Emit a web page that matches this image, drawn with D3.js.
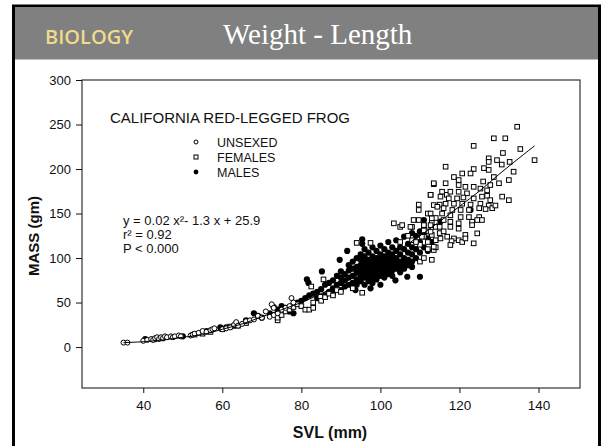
<!DOCTYPE html>
<html>
<head>
<meta charset="utf-8">
<script src="https://cdn.jsdelivr.net/npm/d3@7"></script>
<style>
html,body{margin:0;padding:0;background:#fff;}
svg{display:block;}
</style>
</head>
<body>
<svg id="chart" width="602" height="446"></svg>
<script>
// ---- data ----
const xTicks = [40, 60, 80, 100, 120, 140];
const yTicks = [0, 50, 100, 150, 200, 250, 300];
const legendLabels = ["UNSEXED", "FEMALES", "MALES"];
const equationLines = ["y = 0.02 x\u00B2- 1.3 x + 25.9", "r\u00B2 = 0.92", "P < 0.000"];

const fitCurve = [[35,5],[40,6],[45,8],[50,11],[55,14],[60,20],[65,26],[70,34],[75,42],[80,50],[85,60],[90,71],[95,83],[100,96],[105,110],[110,125],[115,141],[120,158],[125,175],[130,194],[135,212],[139,226]];

const unsexed = [[35,5],[36,5],[40,7],[41,8],[42,9],[42.5,8],[43,10],[43.5,11],[44,9],[44.5,11],[45,10],[45.5,12],[46,11],[47,12],[47.5,11],[48,12],[49,13],[49.5,12],[52,13],[52.5,14],[53,15],[54,16],[55,18],[56,17],[57,19],[57.5,20],[58,21],[60,20],[61,21],[62,22],[63,25],[63.5,28],[64,24],[65,26],[66,29],[67,30],[68,31],[69,35],[70,33],[71,40],[72,34],[72.5,48],[73,36],[73,44],[74,38],[75,42],[76,44],[77,46],[77.5,55],[78,50]];

const females = [
[53,14],[55,15],[57,17],[60,20],[62,23],[64,24],[66,27],
[74,30],[74,33],[75,36],[76,40],[77,42],[78,45],[79,48],[80,46],[81,42],[82,42],[83,44],[82.5,68],[83,50],[84.8,56.5],[85,52],[85.6,76],[86,56],[87,60],[88,58],[89,64],[90,62],[93,66],[94,117],[95.4,61],[97.5,117],
[103.4,139],[105,135],[105,118],[108,135],[108,120],[109.7,160],[110,96],[110,115],[111,124],[111,137],[112,110],[112,130],[112.7,171],[113.5,109],[113.5,183],[113,98],[114,120],[115,128],[116.8,171],[115,160],[114,135],[112,150],
[107,125],[109,118],[111,100],[112,118],[113,126],[114,112],[113,140],[114,145],[115,135],[116,130],
[134.6,247.5],[128.7,234.5],[131.6,234.5],[123.6,226],[131,218],[135.4,222.5],[139,210],[127.4,212],[127.4,208],[129.5,210],[130.7,205],[132.7,208],[133.7,197],[126.2,201],[127.4,199],[123.6,200],[120.7,195],[116.5,202.6],[122.8,195],[118.6,191],[119.8,187.6],[128.7,191],[130,184],[132.5,187.6],[126,186],[127.8,182],[113.5,184],[116.5,184],[119.8,182],[121.5,180],[123.6,180],[125.3,178],[127,176],[115.6,174.5],[117.7,174.5],[119.8,174.5],[121.9,172.7],[112.7,171],[115.2,169],[117.3,167],[119.4,167],[121,168],[123.6,167],[125.7,169],[127,170],[127.8,165],[130.8,169],[132.5,165],[116.5,161],[118.6,161],[120.7,161],[122.8,160],[125.3,161],[127.4,159],[113.5,159.5],[114.4,157.6],[116,156],[118.2,154],[120.3,154],[122.4,154],[125,156],[126.6,155],[128.3,156],[129.1,159],[112.7,150],[115.6,150],[117.7,148],[120.3,146],[122.4,146],[125,146],[113,144.6],[116,142.7],[117.7,140.8],[119.8,139],[123.2,140.8],[125.7,142.7],[117.7,135],[119.8,133],[123.2,137],[124.5,142.7],[116.9,124],[118.6,122],[119.8,120],[121.5,126],[124.5,127.7],[118,119],[113.5,112.7],[117.7,114.6],[123.6,116.5],[109.7,142.7],[107.6,135],[105.5,137],[111,137],[112.7,137],[111,131],[112.7,129.6],[110.5,124],[109.7,154],[115.2,122],[108.4,142.7],[120.7,118],[121.5,122]
];

const males = [[40.5,9],[43,9],[45,10],[50,12],[56,18],[59.5,22],[61,22],[63,24],[66,30],[68,38],[69,35],[70,33],[72,38],[73,45],[74,42],[75,46],[76,44],[77,40],[78,48],[78,38],[79,50],[80,52],[81,55],[81.4,76],[81.8,72],[82,58],[83,60],[84,55],[84,62],[85,65],[85.2,85],[86,58],[86,70],[87,62],[87,72],[88,66],[88,75],[88,60],[89,70],[89,80],[89.7,98],[90,64],[90,72],[90,78],[90,85],[91,68],[91,75],[91,82],[91.6,108],[92,70],[92,78],[92,86],[92,92],[93,72],[93,80],[93,88],[93,96],[93.7,64],[94,70],[94,76],[94,84],[94,90],[94,100],[95,74],[95,80],[95,86],[95,92],[95,98],[95,104],[95.4,116],[95.4,121],[96,70],[96,78],[96,84],[96,90],[96,96],[96,102],[96,110],[97,74],[97,80],[97,86],[97,92],[97,98],[97,106],[97.5,66],[98,72],[98,78],[98,84],[98,90],[98,96],[98,102],[98,112],[99,76],[99,82],[99,88],[99,94],[99,100],[99,108],[100,70],[100,80],[100,86],[100,92],[100,98],[100,104],[100,114],[101,78],[101,84],[101,90],[101,96],[101,102],[101,110],[102,82],[102,88],[102,94],[102,100],[102,106],[102,118],[103,80],[103,86],[103,92],[103,98],[103,104],[103,112],[103.8,75],[104,88],[104,94],[104,100],[104,108],[104,120],[105,84],[105,90],[105,96],[105,104],[105,112],[106,88],[106,94],[106,100],[106,110],[106,124],[106.8,79],[107,92],[107,98],[107,106],[107,116],[108,90],[108,96],[108,104],[108,112],[108,128],[109,100],[109,110],[109,125],[110,79],[110,106],[110,118],[110,130],[111,112],[111,128],[111,142.7],[112,108],[112,122],[113,118],[115.2,141],[122.8,154]];

// ---- layout ----
const svg = d3.select("#chart");

// slide frame
svg.append("rect").attr("x", 13.5).attr("y", 6).attr("width", 586).attr("height", 460)
  .attr("fill", "#fff").attr("stroke", "#000").attr("stroke-width", 3);
svg.append("rect").attr("x", 15).attr("y", 7.5).attr("width", 583).attr("height", 52)
  .attr("fill", "#808080");
svg.append("text").attr("x", 45).attr("y", 44).text("BIOLOGY")
  .attr("font-family", "'Open Sans', sans-serif").attr("font-size", 20).attr("font-weight", 600)
  .attr("fill", "#f0db8e");
svg.append("text").attr("x", 223).attr("y", 44).text("Weight - Length")
  .attr("font-family", "'Liberation Serif', 'DejaVu Serif', serif").attr("font-size", 29)
  .attr("fill", "#fff");

const x = d3.scaleLinear().domain([24.5, 150.5]).range([82, 580]);
const y = d3.scaleLinear().domain([-46, 300]).range([388, 80]);

const ink = "#111";
const fontSans = "'Liberation Sans', Arial, sans-serif";

// plot frame
svg.append("rect").attr("x", 82).attr("y", 80).attr("width", 498).attr("height", 308)
  .attr("fill", "none").attr("stroke", "#333").attr("stroke-width", 1.2);

// axes
const yAxis = d3.axisLeft(y).tickValues(yTicks).tickSize(6).tickPadding(5);
const gy = svg.append("g").attr("transform", "translate(82,0)").call(yAxis);
gy.select(".domain").remove();
gy.selectAll("line").attr("stroke", ink);
gy.selectAll("text").attr("font-family", fontSans).attr("font-size", 13).attr("fill", ink);

const xAxis = d3.axisBottom(x).tickValues(xTicks).tickSize(5).tickPadding(7);
const gx = svg.append("g").attr("transform", "translate(0,388)").call(xAxis);
gx.select(".domain").remove();
gx.selectAll("line").attr("stroke", ink);
gx.selectAll("text").attr("font-family", fontSans).attr("font-size", 13.5).attr("fill", ink);

// axis titles
svg.append("text").attr("transform", "translate(39,236) rotate(-90)").attr("text-anchor", "middle")
  .text("MASS (gm)").attr("font-family", fontSans).attr("font-size", 15).attr("font-weight", "bold").attr("fill", ink);
svg.append("text").attr("x", 330).attr("y", 438).attr("text-anchor", "middle")
  .text("SVL (mm)").attr("font-family", fontSans).attr("font-size", 16).attr("font-weight", "bold").attr("fill", ink);

// points
const gPts = svg.append("g");
gPts.selectAll("circle.m").data(males).join("circle").attr("class", "m")
  .attr("cx", d => x(d[0])).attr("cy", d => y(d[1])).attr("r", 3.1).attr("fill", "#000");
gPts.selectAll("rect.f").data(females).join("rect").attr("class", "f")
  .attr("x", d => x(d[0]) - 2.3).attr("y", d => y(d[1]) - 2.3).attr("width", 4.6).attr("height", 4.6)
  .attr("fill", "#fff").attr("stroke", "#000").attr("stroke-width", 1);
gPts.selectAll("circle.u").data(unsexed).join("circle").attr("class", "u")
  .attr("cx", d => x(d[0])).attr("cy", d => y(d[1])).attr("r", 2.5)
  .attr("fill", "#fff").attr("stroke", "#000").attr("stroke-width", 1);

// fitted curve
const line = d3.line().x(d => x(d[0])).y(d => y(d[1])).curve(d3.curveCatmullRom);
svg.append("path").datum(fitCurve).attr("d", line).attr("fill", "none")
  .attr("stroke", "#000").attr("stroke-width", 1);

// title & legend
svg.append("text").attr("x", 110).attr("y", 123).text("CALIFORNIA RED-LEGGED FROG")
  .attr("font-family", fontSans).attr("font-size", 15).attr("fill", ink);
const legY = [142, 157, 172];
legendLabels.forEach((lab, i) => {
  svg.append("text").attr("x", 217).attr("y", legY[i] + 4.5).text(lab)
    .attr("font-family", fontSans).attr("font-size", 12.5).attr("fill", ink);
});
svg.append("circle").attr("cx", 196).attr("cy", legY[0]).attr("r", 2).attr("fill", "#fff").attr("stroke", "#000");
svg.append("rect").attr("x", 194).attr("y", legY[1] - 2).attr("width", 4).attr("height", 4).attr("fill", "#fff").attr("stroke", "#000");
svg.append("circle").attr("cx", 196).attr("cy", legY[2]).attr("r", 2.4).attr("fill", "#000");

// equation
const eqY = [225, 239, 253];
equationLines.forEach((t, i) => {
  svg.append("text").attr("x", 123).attr("y", eqY[i]).text(t)
    .attr("font-family", fontSans).attr("font-size", 13).attr("fill", ink);
});
</script>
</body>
</html>
